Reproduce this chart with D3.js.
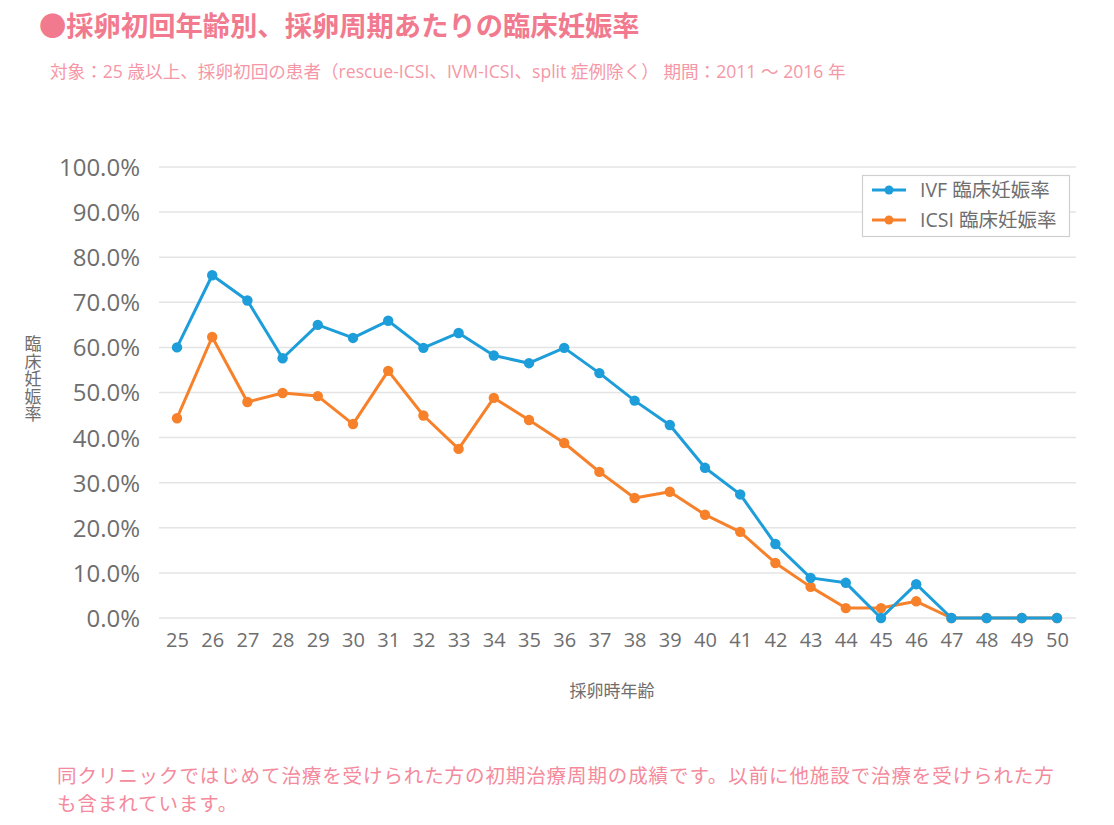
<!DOCTYPE html>
<html><head><meta charset="utf-8">
<script src="https://cdn.jsdelivr.net/npm/d3@7/dist/d3.min.js"></script>
<style>
body{margin:0;background:#fff;}
svg{display:block;}
</style></head>
<body>
<svg id="c" width="1114" height="825"></svg>
<script>
const ages = [25,26,27,28,29,30,31,32,33,34,35,36,37,38,39,40,41,42,43,44,45,46,47,48,49,50];
const ivf  = [60.0,76.0,70.4,57.6,65.0,62.1,65.9,59.9,63.2,58.2,56.5,59.9,54.3,48.2,42.8,33.3,27.4,16.4,8.9,7.8,0.0,7.5,0,0,0,0];
const icsi = [44.3,62.3,47.9,49.9,49.2,43.0,54.8,44.9,37.5,48.8,43.9,38.8,32.4,26.6,28.0,22.9,19.1,12.2,6.9,2.2,2.2,3.7,0,0,0,0];
const yTicks = [0,10,20,30,40,50,60,70,80,90,100];
const seriesNames = ["IVF 臨床妊娠率","ICSI 臨床妊娠率"];
const colors = ["#1d9dd9","#f7812a"];

const svg = d3.select("#c");
const jp = "'Noto Sans CJK JP','Noto Sans',sans-serif";
const num = "'Open Sans','Noto Sans CJK JP',sans-serif";
const pink = "#f27a8f";

// title
svg.append("text").attr("x",39).attr("y",36)
  .attr("font-family",jp).attr("font-size",27.3).attr("font-weight","bold")
  .attr("fill",pink).text("●採卵初回年齢別、採卵周期あたりの臨床妊娠率");
svg.append("text").attr("x",50).attr("y",78)
  .attr("font-family",num).attr("font-size",17.6)
  .attr("fill","#f597a6").text("対象：25 歳以上、採卵初回の患者（rescue-ICSI、IVM-ICSI、split 症例除く） 期間：2011 ～ 2016 年");

const x = d3.scalePoint().domain(ages).range([177,1057]);
const y = d3.scaleLinear().domain([0,100]).range([618,167]);

// grid
svg.append("g").selectAll("line").data(yTicks).join("line")
  .attr("x1",159).attr("x2",1076)
  .attr("y1",d=>y(d)).attr("y2",d=>y(d))
  .attr("stroke","#e4e4e4").attr("stroke-width",1.5);

// y axis
const yAxis = svg.append("g").attr("transform","translate(140,0)")
  .call(d3.axisLeft(y).tickValues(yTicks).tickSize(0).tickPadding(0).tickFormat(d=>d.toFixed(1)+"%"));
yAxis.select(".domain").remove();
yAxis.selectAll("text").attr("font-family",num).attr("font-size",24).attr("fill","#6e6e6e").attr("dy","0.35em");

// x axis
const xAxis = svg.append("g").attr("transform","translate(0,628)")
  .call(d3.axisBottom(x).tickSize(0).tickPadding(0));
xAxis.select(".domain").remove();
xAxis.selectAll("text").attr("font-family",num).attr("font-size",20).attr("fill","#6e6e6e").attr("dy","0.95em");

// axis titles
svg.append("text").attr("x",612).attr("y",697).attr("text-anchor","middle")
  .attr("font-family",jp).attr("font-size",17).attr("fill","#6e6e6e").text("採卵時年齢");
svg.append("text").attr("x",33).attr("y",379)
  .attr("font-family",jp).attr("font-size",17).attr("fill","#6e6e6e")
  .attr("text-anchor","middle").style("writing-mode","vertical-rl")
  .attr("letter-spacing",0.6).text("臨床妊娠率");

// series
const data = [ivf, icsi];
const line = d3.line().x((d,i)=>x(ages[i])).y(d=>y(d));
[1,0].forEach(s=>{
  const g = svg.append("g");
  g.append("path").datum(data[s]).attr("d",line).attr("fill","none")
    .attr("stroke",colors[s]).attr("stroke-width",3).attr("stroke-linejoin","round");
  g.selectAll("circle").data(data[s]).join("circle")
    .attr("cx",(d,i)=>x(ages[i])).attr("cy",d=>y(d)).attr("r",5.2).attr("fill",colors[s]);
});

// legend
const lg = svg.append("g");
lg.append("rect").attr("x",862.5).attr("y",175.5).attr("width",207).attr("height",61)
  .attr("fill","#fff").attr("stroke","#cfcfcf").attr("stroke-width",1.2);
seriesNames.forEach((n,i)=>{
  const yy = 190 + i*30;
  lg.append("line").attr("x1",872).attr("x2",906).attr("y1",yy).attr("y2",yy)
    .attr("stroke",colors[i]).attr("stroke-width",3);
  lg.append("circle").attr("cx",889).attr("cy",yy).attr("r",4.5).attr("fill",colors[i]);
  lg.append("text").attr("x",920).attr("y",yy).attr("dy","0.36em")
    .attr("font-family",num).attr("font-size",19.5).attr("fill","#6e6e6e").text(n);
});

// footer
const foot = ["同クリニックではじめて治療を受けられた方の初期治療周期の成績です。以前に他施設で治療を受けられた方","も含まれています。"];
foot.forEach((t,i)=>{
  svg.append("text").attr("x",57).attr("y",783+i*28)
    .attr("font-family",jp).attr("font-size",19.5).attr("letter-spacing",0.9)
    .attr("fill","#f48a9c").text(t);
});
</script>
</body></html>
